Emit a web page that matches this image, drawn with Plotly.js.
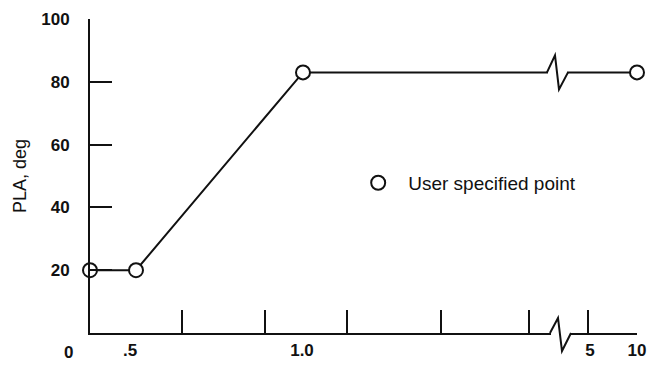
<!DOCTYPE html>
<html>
<head>
<meta charset="utf-8">
<script src="https://cdn.plot.ly/plotly-3.0.1.min.js"></script>
<style>
  html, body { margin: 0; padding: 0; background: #fff; }
  #chart { width: 653px; height: 366px; }
</style>
</head>
<body>
<div id="chart"></div>
<script>
// Schedule points (position along the broken time axis, PLA in deg)
const pointPos = [0, 4.6, 21.3, 54.7];
const pointPLA = [20, 20, 83, 83];
const pointTime = ['0', '.5', '1.0', '10'];

// Axis ticks and labels (positions along the broken axis)
const xTickPos = [9.2, 17.5, 25.7, 35.1, 43.9, 49.8, 54.7];
const xLabelPos = [4.0, 21.2, 50.0, 54.7];
const xLabelText = ['.5', '1.0', '5', '10'];
const originLabel = '0';
const originLabelPos = -2.2;
const yTickVals = [20, 40, 60, 80, 100];

// Where the axis scale is broken
const lineBreakPos = 46.5;
const axisBreakPos = 46.8;

const ink = '#111';
const family = '"Liberation Sans", Arial, sans-serif';
const baseFont = { family: family, size: 17, color: ink, weight: 'normal' };
const tickFont = { family: family, size: 17, color: ink, weight: 'bold' };
const titleFont = { family: family, size: 18, color: ink, weight: 'normal' };
const legendFont = { family: family, size: 19, color: ink, weight: 'normal' };
const xRange = [0, 54.7];

// Zigzag break symbol drawn in pixel offsets around an anchor point
function breakShapes(xPos, yVal, yref, up, down) {
  return [
    { type: 'rect', xref: 'x', yref: yref, xsizemode: 'pixel', ysizemode: 'pixel',
      xanchor: xPos, yanchor: yVal, x0: -7, x1: 12, y0: -3, y1: 3,
      fillcolor: '#fff', line: { width: 0 }, layer: 'above' },
    { type: 'path', xref: 'x', yref: yref, xsizemode: 'pixel', ysizemode: 'pixel',
      xanchor: xPos, yanchor: yVal,
      path: `M-8,0 L0,${up} L4,${-down} L13,0`,
      line: { color: ink, width: 2 }, layer: 'above' }
  ];
}

const traces = [
  { x: pointPos, y: pointPLA, mode: 'lines', showlegend: false, hoverinfo: 'skip',
    line: { color: ink, width: 2 }, cliponaxis: false },
  { x: pointPos, y: pointPLA, text: pointTime, mode: 'markers', name: 'User specified point',
    xaxis: 'x2',
    marker: { symbol: 'circle', size: 14, color: '#fff', line: { color: ink, width: 2 } },
    cliponaxis: false }
];

const layout = {
  width: 653, height: 366, autosize: false,
  margin: { l: 90, r: 16, t: 19, b: 33, pad: 0 },
  paper_bgcolor: '#fff', plot_bgcolor: '#fff',
  font: baseFont,
  showlegend: true,
  legend: { x: 0.472, y: 0.478, xanchor: 'left', yanchor: 'middle',
            itemwidth: 50, font: legendFont, bgcolor: 'rgba(0,0,0,0)', borderwidth: 0 },
  xaxis: { range: xRange, showline: true, linewidth: 2, linecolor: ink,
           ticks: 'inside', ticklen: 23, tickwidth: 2, tickcolor: ink,
           tickvals: xTickPos, showticklabels: false,
           showgrid: false, zeroline: false, fixedrange: true },
  xaxis2: { overlaying: 'x', anchor: 'y', side: 'bottom', range: xRange,
            tickmode: 'array', tickvals: xLabelPos, ticktext: xLabelText,
            ticks: '', showline: false, showgrid: false, zeroline: false,
            ticklabelstandoff: 5, tickfont: tickFont, fixedrange: true },
  yaxis: { range: [0, 100], showline: true, linewidth: 2, linecolor: ink,
           ticks: 'inside', ticklen: 22, tickwidth: 2, tickcolor: ink,
           tickvals: yTickVals, showgrid: false, zeroline: false,
           ticklabelstandoff: 15, tickfont: tickFont, fixedrange: true,
           title: { text: 'PLA, deg', font: titleFont, standoff: 10 } },
  annotations: [
    { text: originLabel, xref: 'paper', yref: 'paper',
      x: (originLabelPos - xRange[0]) / (xRange[1] - xRange[0]), y: 0,
      yshift: -19, xanchor: 'center', yanchor: 'middle', showarrow: false, font: tickFont }
  ],
  shapes: [].concat(breakShapes(lineBreakPos, 83, 'y', 17, 17),
                    breakShapes(axisBreakPos, 0, 'paper', 15, 18))
};

Plotly.newPlot('chart', traces, layout, { displayModeBar: false, staticPlot: true });
</script>
</body>
</html>
